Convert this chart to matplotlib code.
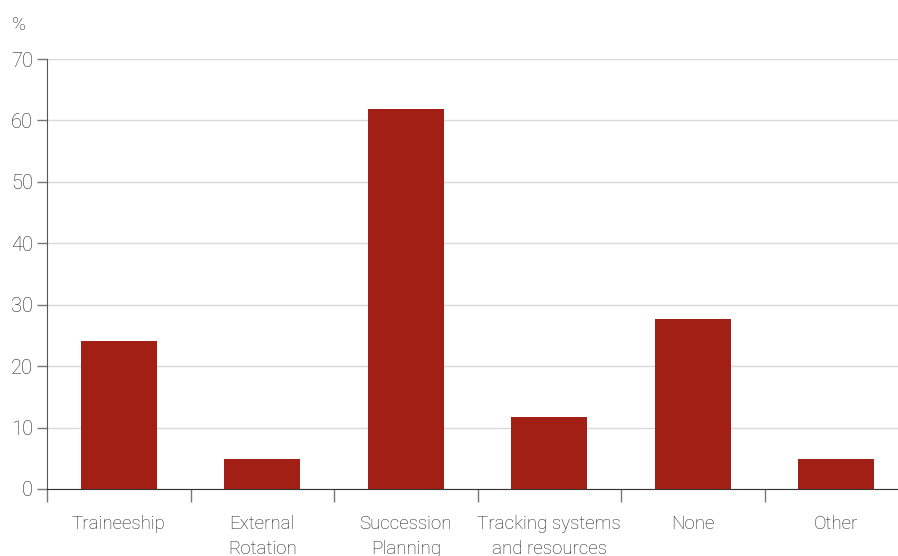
import numpy as np
import matplotlib.pyplot as plt
from matplotlib.ticker import FixedLocator

categories = ['Traineeship', 'External\nRotation', 'Succession\nPlanning',
              'Tracking systems\nand resources', 'None', 'Other']
values = [24.1, 4.9, 61.9, 11.7, 27.7, 4.9]
y_ticks = [0, 10, 20, 30, 40, 50, 60, 70]

plt.rcParams['font.family'] = ['Roboto', 'DejaVu Sans']
plt.rcParams['font.weight'] = 'light'

fig = plt.figure(figsize=(8.98, 5.56), dpi=100)
ax = fig.add_axes([47 / 898, 1 - 489 / 556, 861 / 898, 430 / 556])

x = np.arange(len(categories)) + 0.5
ax.bar(x, values, width=0.53, color='#A21F15', zorder=3)

ax.set_xlim(0, 6)
ax.set_ylim(0, 70)
ax.set_yticks(y_ticks)
ax.set_yticklabels([str(t) for t in y_ticks], fontsize=14.5, color='#222222')
ax.yaxis.grid(True, color='#d9d9d9', linewidth=1, zorder=0)

ax.set_xticks(x)
ax.set_xticklabels(categories, fontsize=13.5, color='#222222', linespacing=1.5)
ax.xaxis.set_minor_locator(FixedLocator([0, 1, 2, 3, 4, 5]))
ax.tick_params(axis='x', which='major', length=0, pad=18.5)
ax.tick_params(axis='x', which='minor', length=9.5, width=1, color='#777777')
ax.tick_params(axis='y', length=7, width=1, color='#777777', pad=3)

for side in ['top', 'right']:
    ax.spines[side].set_visible(False)
ax.spines['left'].set_color('#555555')
ax.spines['bottom'].set_color('#333333')

fig.text(12 / 898, 1 - 25 / 556, '%', fontsize=13.5, color='#222222',
         va='center', ha='left')

fig.savefig('out.png', dpi=100)
